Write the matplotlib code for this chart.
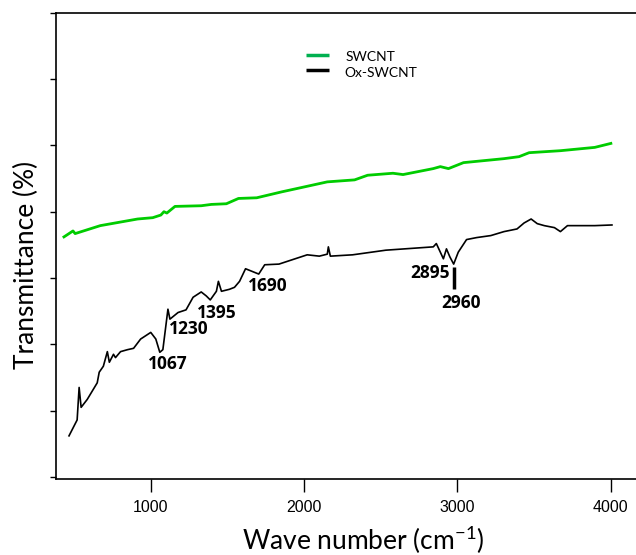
import numpy as np
import matplotlib
matplotlib.use("Agg")
import matplotlib.pyplot as plt

plt.rcParams["font.family"] = "Liberation Sans"
plt.rcParams["mathtext.fontset"] = "custom"
plt.rcParams["mathtext.rm"] = "Lato"

# FTIR spectra (wave number in cm-1, transmittance in arbitrary offset units)
swcnt_wn = [434, 493, 507, 671, 914, 1013, 1066, 1086, 1105, 1158, 1329, 1395, 1493,
            1572, 1691, 1855, 1954, 2151, 2329, 2414, 2579, 2645, 2842, 2888, 2941,
            3039, 3303, 3401, 3467, 3671, 3895, 4000]
swcnt_t = [3.62, 3.71, 3.67, 3.79, 3.89, 3.91, 3.95, 4.00, 3.98, 4.08, 4.09, 4.11, 4.12,
           4.20, 4.21, 4.30, 4.35, 4.45, 4.48, 4.55, 4.58, 4.56, 4.65, 4.68, 4.65,
           4.74, 4.80, 4.83, 4.89, 4.92, 4.97, 5.03]

ox_wn = [467, 520, 533, 546, 586, 651, 664, 691, 717, 730, 757, 770, 803, 849, 888,
         934, 1000, 1033, 1059, 1079, 1112, 1125, 1178, 1230, 1276, 1329, 1362, 1388,
         1428, 1441, 1461, 1513, 1546, 1579, 1618, 1704, 1743, 1836, 1941, 2020, 2099,
         2151, 2158, 2171, 2316, 2533, 2842, 2862, 2908, 2928, 2950, 2975, 3005, 3059,
         3125, 3217, 3303, 3388, 3434, 3480, 3520, 3566, 3632, 3671, 3717, 3809, 3895,
         4007]
ox_t = [0.62, 0.86, 1.35, 1.05, 1.17, 1.42, 1.58, 1.67, 1.89, 1.73, 1.85, 1.80, 1.89,
        1.92, 1.94, 2.08, 2.18, 2.08, 1.88, 1.92, 2.53, 2.38, 2.48, 2.52, 2.71, 2.79,
        2.73, 2.67, 2.80, 2.95, 2.80, 2.83, 2.86, 2.95, 3.14, 3.06, 3.20, 3.21, 3.29,
        3.35, 3.33, 3.36, 3.47, 3.33, 3.35, 3.42, 3.47, 3.52, 3.29, 3.44, 3.32, 3.21,
        3.39, 3.58, 3.61, 3.64, 3.70, 3.74, 3.83, 3.89, 3.82, 3.79, 3.76, 3.70, 3.79,
        3.79, 3.79, 3.80]

peak_labels = ["1067", "1230", "1395", "1690", "2895", "2960"]
peak_pos = [(1110, 1.70), (1250, 2.23), (1430, 2.48), (1760, 2.88), (2820, 3.08), (3020, 2.63)]

fig = plt.figure(figsize=(6.36, 5.55), dpi=100)
ax = fig.add_axes([0.088, 0.137, 0.92, 0.840])

ax.plot(swcnt_wn, swcnt_t, color="#00cc00", lw=2.0)
ax.plot(ox_wn, ox_t, color="black", lw=1.2)

for lab, (x, y) in zip(peak_labels, peak_pos):
    ax.text(x, y, lab, ha="center", va="center", fontsize=12.5, fontweight="bold",
            family="Open Sans")

# marker under the 2960 band
ax.plot([2975, 2975], [2.83, 3.17], color="black", lw=2.5, solid_capstyle="butt")

# legend drawn by hand
ax.plot([2010, 2160], [6.36, 6.36], color="#00b050", lw=2.5, solid_capstyle="butt")
ax.plot([2010, 2160], [6.13, 6.13], color="black", lw=2.5, solid_capstyle="butt")
ax.text(2270, 6.33, "SWCNT", fontsize=10, va="center", family="Lato")
ax.text(2260, 6.09, "Ox-SWCNT", fontsize=10, va="center", family="Lato")

ax.set_xlim(382, 4197)
ax.set_ylim(-0.03, 7.0)
ax.set_xticks([1000, 2000, 3000, 4000])
ax.set_yticks(np.arange(0, 8))
ax.set_yticklabels([])
ax.tick_params(axis="x", direction="out", length=9, width=1, labelsize=11.5, pad=6)
ax.tick_params(axis="y", direction="out", length=4, width=1)
ax.spines["right"].set_visible(False)
for s in ["left", "bottom", "top"]:
    ax.spines[s].set_linewidth(1.2)

ax.set_xlabel("Wave number (cm$^{-1}$)", fontsize=19, family="Lato", va="top")
ax.set_ylabel("Transmittance (%)", fontsize=19, family="Lato", va="center")
ax.xaxis.set_label_coords(0.525, -0.095)
ax.yaxis.set_label_coords(-0.05, 0.46)

fig.savefig("out.png", dpi=100)
